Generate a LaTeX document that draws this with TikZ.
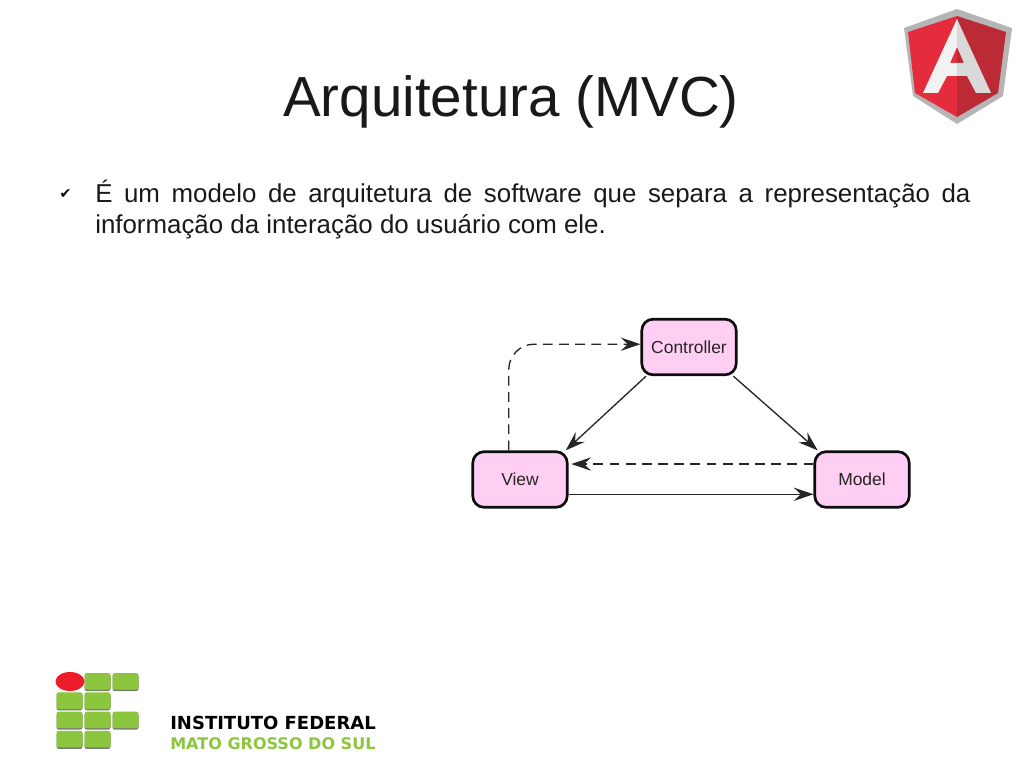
\documentclass[tikz,border=0pt]{standalone}
\usepackage{fontspec}
\setmainfont{Liberation Sans}
\newfontfamily\dejavu{DejaVu Sans}
\newfontfamily\dejavubold{DejaVu Sans Bold}
\usetikzlibrary{positioning,arrows.meta,shapes.geometric}

\definecolor{boxpink}{HTML}{FFCEF3}
\definecolor{ngred}{HTML}{E52C3D}
\definecolor{ngdark}{HTML}{BC2A35}
\definecolor{nggray}{HTML}{B5B5B5}
\definecolor{nglight}{HTML}{F2F2F2}
\definecolor{nglighter}{HTML}{D9D9D9}
\definecolor{ifgreen}{HTML}{8CC63F}
\definecolor{ifshade}{HTML}{7A8070}
\definecolor{ifred}{HTML}{EC1C2A}

\tikzset{
  mvcbox/.style={draw=black!95,line width=1.9pt,fill=boxpink,rounded corners=8pt,
    minimum width=2.36cm,minimum height=1.39cm,inner sep=0pt,text=black!85,font=\fontsize{12.4pt}{14pt}\selectfont},
  mvcarrow/.style={draw=black!85,line width=0.95pt,-{Stealth[length=14pt,width=9.5pt,inset=5pt]}},
  mvcdash/.style={mvcarrow,dash pattern=on 7pt off 4.5pt},
  ifcell/.style={fill=ifgreen,rounded corners=1.5pt},
  ifshadow/.style={fill=ifshade,rounded corners=1.5pt},
}

\begin{document}
\begin{tikzpicture}[x=0.025cm,y=-0.025cm]
\useasboundingbox (0,0) rectangle (1024,768);

% slide texts
\node[anchor=base,inner sep=0pt,text=black!90,font=\fontsize{40.2pt}{44pt}\selectfont] (title) at (511,117) {Arquitetura (MVC)};
\node[anchor=north west,inner sep=0pt,text width=21.875cm,align=justify,text=black!90,font=\fontsize{18.4pt}{22pt}\selectfont] (bodytext) at (95,180)
  {É um modelo de arquitetura de software que separa a representação da \mbox{informação} da interação do usuário com ele.};
\node[inner sep=0pt,font=\dejavu\fontsize{10pt}{11pt}\selectfont] (check) at (65.5,194) {✔};

% mvc triangle
\node[mvcbox] (controller) at (689,347) {Controller};
\node[mvcbox] (view) at (520,479.5) {View};
\node[mvcbox] (model) at (862,479.5) {Model};

\draw[mvcarrow] ([xshift=4pt]controller.south west) -- ([xshift=-2pt]view.north east);
\draw[mvcarrow] ([xshift=-3pt]controller.south east) -- ([xshift=3pt]model.north west);
\draw[mvcdash] ([yshift=11pt]model.west) -- ([yshift=11pt,xshift=2pt]view.east);
\draw[mvcarrow] ([yshift=-10.5pt]view.east) -- ([yshift=-10.5pt]model.west);
\draw[mvcdash,rounded corners=18pt] ([xshift=-8pt]view.north) -- ([xshift=-8pt,yshift=2pt]view.north |- controller.west) -- ([yshift=2pt]controller.west);

% angular shield
\fill[nggray] (957,9) -- (1012,28) -- (1003,96) -- (957,124) -- (913,96) -- (904,28) -- cycle;
\fill[ngred] (957,16) -- (908,32) -- (915,93) -- (957,117) -- cycle;
\fill[ngdark] (957,16) -- (1006,32) -- (998,93) -- (957,117) -- cycle;
\fill[nglight] (957,19) -- (923,93) -- (938,93) -- (947,76) -- (957,76) -- (957,63) -- (950,63) -- (957,47) -- cycle;
\fill[nglighter] (957,19) -- (991,93) -- (976,93) -- (967,76) -- (957,76) -- (957,63) -- (964,63) -- (957,47) -- cycle;

% if logo
\foreach \col/\row in {2/1,3/1,1/2,2/2,1/3,2/3,3/3,1/4,2/4}{
  \pgfmathsetmacro{\xa}{56.5+28*(\col-1)}
  \pgfmathsetmacro{\ya}{673+19.3*(\row-1)}
  \fill[ifshadow] (\xa,\ya+1.5) rectangle (\xa+26,\ya+18);
  \fill[ifcell] (\xa,\ya) rectangle (\xa+26,\ya+16.5);
}
\fill[ifred] (70,681.5) ellipse (14.5 and 9.5);
\node[anchor=base west,inner sep=0pt,font=\dejavubold\fontsize{12.8pt}{14pt}\selectfont] (ifname) at (170,729) {INSTITUTO FEDERAL};
\node[anchor=base west,inner sep=0pt,text=ifgreen,font=\dejavubold\fontsize{11.4pt}{14pt}\selectfont] (ifstate) at (170,749.5) {MATO GROSSO DO SUL};
\end{tikzpicture}
\end{document}
